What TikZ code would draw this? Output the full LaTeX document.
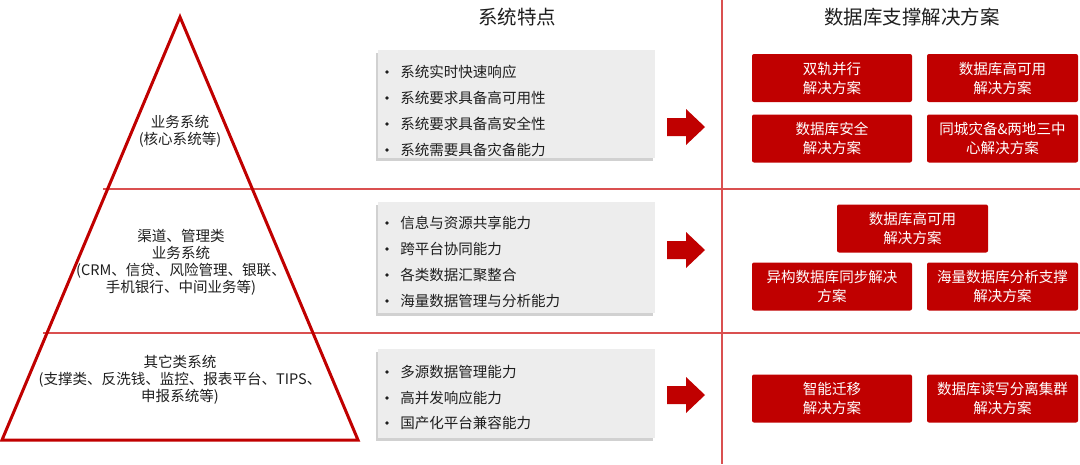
\documentclass[tikz,border=0pt]{standalone}
\usepackage{fontspec}
\newfontfamily\cjk{Noto Sans CJK SC}
\usetikzlibrary{shadows}
\definecolor{myred}{RGB}{192,0,0}
\definecolor{linered}{RGB}{218,80,80}
\definecolor{boxgray}{RGB}{237,237,237}
\definecolor{txt}{RGB}{30,30,30}
\begin{document}
\begin{tikzpicture}[x=0.75pt,y=-0.75pt,
  every node/.style={font=\cjk\fontsize{10.9pt}{12.75pt}\selectfont, text=txt},
  header/.style={font=\cjk\fontsize{14.6pt}{17pt}\selectfont, text=txt},
  pyr/.style={align=center, inner sep=0pt},
  graybox/.style={fill=boxgray, draw=none, minimum width=207.75pt, inner sep=0pt,
    drop shadow={shadow xshift=-1.5pt, shadow yshift=-2pt, opacity=0.3, fill=black!60}},
  item/.style={anchor=west, inner sep=0pt},
  rbox/.style={fill=myred, rounded corners=1.5pt, text=white, align=center, inner sep=0pt,
    minimum height=36pt, font=\cjk\fontsize{10.9pt}{14.25pt}\selectfont},
  bigarrow/.style={fill=myred, draw=none},
  sep/.style={draw=linered, line width=0.9pt}
]
\useasboundingbox (0,0) rectangle (1080,464);

% separators
\draw[sep] (103,189) -- (1080,189);
\draw[sep] (43,333) -- (1080,333);
\draw[sep] (722,0) -- (722,464);

% pyramid
\draw[myred, line width=2.25pt, line join=miter] (180,17) -- (358,440) -- (2,440) -- cycle;
\node[pyr] (p1) at (180,131.5) {业务系统\\(核心系统等)};
\node[pyr] (p2) at (181,262.5) {渠道、管理类\\业务系统\\(CRM、信贷、风险管理、银联、\\手机银行、中间业务等)};
\node[pyr] (p3) at (180,379.5) {其它类系统\\(支撑类、反洗钱、监控、报表平台、TIPS、\\申报系统等)};

% headers
\node[header] (h1) at (517,17) {系统特点};
\node[header] (h2) at (912,17) {数据库支撑解决方案};

% gray boxes
\node[graybox, minimum height=81pt] (g1) at (516.5,104) {};
\node[graybox, minimum height=83.25pt] (g2) at (516.5,257.5) {};
\node[graybox, minimum height=66.75pt] (g3) at (516.5,393.5) {};

% items
\foreach \y/\t [count=\i] in {72/系统实时快速响应, 98/系统要求具备高可用性, 124/系统要求具备高安全性, 150/系统需要具备灾备能力}{
  \fill[txt] (387,\y) circle (1.4pt);
  \node[item] (a\i) at (400,\y) {\t};
}
\foreach \y/\t [count=\i] in {223/信息与资源共享能力, 249/跨平台协同能力, 275/各类数据汇聚整合, 301/海量数据管理与分析能力}{
  \fill[txt] (387,\y) circle (1.4pt);
  \node[item] (b\i) at (400,\y) {\t};
}
\foreach \y/\t [count=\i] in {372/多源数据管理能力, 398/高并发响应能力, 423/国产化平台兼容能力}{
  \fill[txt] (387,\y) circle (1.4pt);
  \node[item] (c\i) at (400,\y) {\t};
}

% arrows
\foreach \yc in {127,250,395}{
  \fill[bigarrow] (667,\yc-9) -- (686,\yc-9) -- (686,\yc-18) -- (705,\yc) -- (686,\yc+18) -- (686,\yc+9) -- (667,\yc+9) -- cycle;
}

% red boxes
\node[rbox, minimum width=120pt] (r1) at (832,78) {双轨并行\\解决方案};
\node[rbox, minimum width=113.25pt] (r2) at (1002.5,78) {数据库高可用\\解决方案};
\node[rbox, minimum width=120pt] (r3) at (832,138.5) {数据库安全\\解决方案};
\node[rbox, minimum width=113.25pt] (r4) at (1002.5,138.5) {同城灾备\&两地三中\\心解决方案};
\node[rbox, minimum width=113.25pt] (r5) at (912.5,228.5) {数据库高可用\\解决方案};
\node[rbox, minimum width=120pt] (r6) at (832,286.5) {异构数据库同步解决\\方案};
\node[rbox, minimum width=113.25pt] (r7) at (1002.5,286.5) {海量数据库分析支撑\\解决方案};
\node[rbox, minimum width=120pt] (r8) at (832,398.5) {智能迁移\\解决方案};
\node[rbox, minimum width=113.25pt] (r9) at (1002.5,398.5) {数据库读写分离集群\\解决方案};
\end{tikzpicture}
\end{document}
